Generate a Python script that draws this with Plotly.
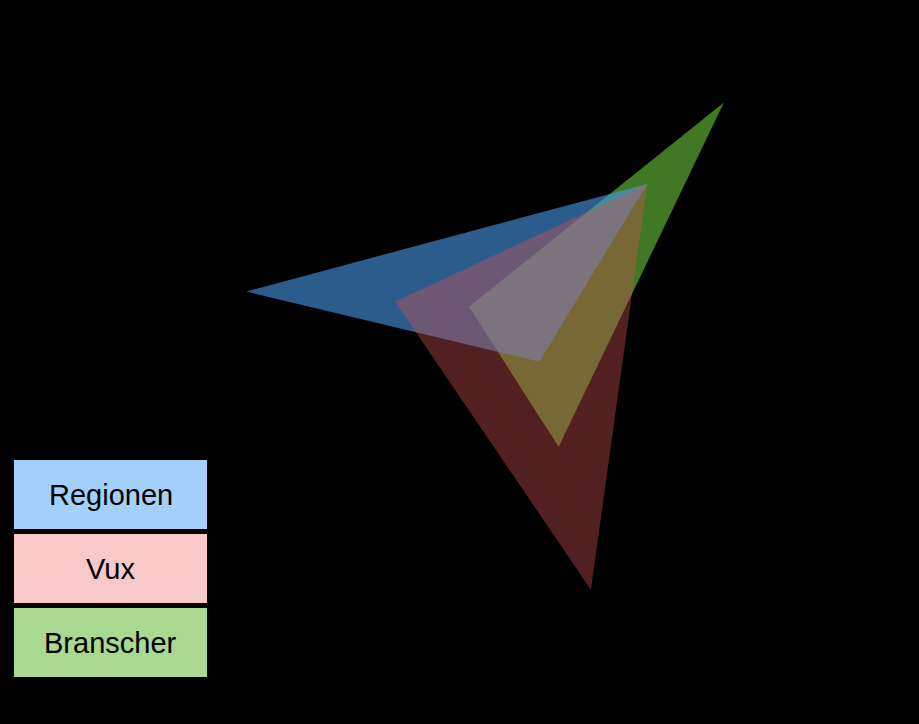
import plotly.graph_objects as go

# Axis directions (degrees, counter-clockwise from east) of the three spokes
axis_names = ["Axel A", "Axel B", "Axel C"]
axis_angles = [176.1, 46.7, 282.75]

# Series values (0-100 scale)
series_names = ["Branscher", "Regionen", "Vux"]
branscher = [20.6, 100.0, 48.8]
regionen = [98.7, 60.9, 18.3]
vux = [46.5, 60.9, 100.0]

fill_colors = {
    "Branscher": "rgba(128,240,72,0.5)",
    "Regionen": "rgba(73,153,233,0.6)",
    "Vux": "rgba(205,80,80,0.4)",
}
legend_colors = {
    "Regionen": "#a3d0fb",
    "Vux": "#f9c9c9",
    "Branscher": "#a9d891",
}
legend_order = ["Regionen", "Vux", "Branscher"]

values = {"Branscher": branscher, "Regionen": regionen, "Vux": vux}

fig = go.Figure()
for name in series_names:
    fig.add_trace(go.Scatterpolar(
        r=values[name],
        theta=axis_angles,
        mode="lines",
        fill="toself",
        fillcolor=fill_colors[name],
        line=dict(width=0, color=fill_colors[name]),
        name=name,
        text=axis_names,
        hoverinfo="name+text+r",
    ))

W, H = 919, 724
cx, cy, R = 527.8, 310.7, 286.0

shapes = []
annotations = []
box_tops = [460, 534, 608]
for name, top in zip(legend_order, box_tops):
    bottom = top + 69
    shapes.append(dict(
        type="rect", xref="paper", yref="paper",
        x0=14 / W, x1=207 / W, y0=1 - bottom / H, y1=1 - top / H,
        fillcolor=legend_colors[name], line=dict(width=0), layer="above",
    ))
    annotations.append(dict(
        text=name, xref="paper", yref="paper",
        x=110.5 / W, y=1 - (top + 35) / H,
        xanchor="center", yanchor="middle", showarrow=False,
        font=dict(family="Liberation Sans, Arial, sans-serif", size=29, color="#000000"),
    ))

fig.update_layout(
    width=W, height=H,
    margin=dict(l=0, r=0, t=0, b=0),
    paper_bgcolor="#000000",
    plot_bgcolor="#000000",
    showlegend=False,
    polar=dict(
        domain=dict(x=[(cx - R) / W, (cx + R) / W], y=[1 - (cy + R) / H, 1 - (cy - R) / H]),
        bgcolor="rgba(0,0,0,0)",
        radialaxis=dict(visible=False, range=[0, 100], showgrid=False),
        angularaxis=dict(visible=False, rotation=0, direction="counterclockwise",
                         thetaunit="degrees", showgrid=False),
    ),
    shapes=shapes,
    annotations=annotations,
)

fig.write_html(
    "out.html",
    config={"displayModeBar": False},
    post_script="document.body.style.margin='0';document.body.style.background='#000';",
)
